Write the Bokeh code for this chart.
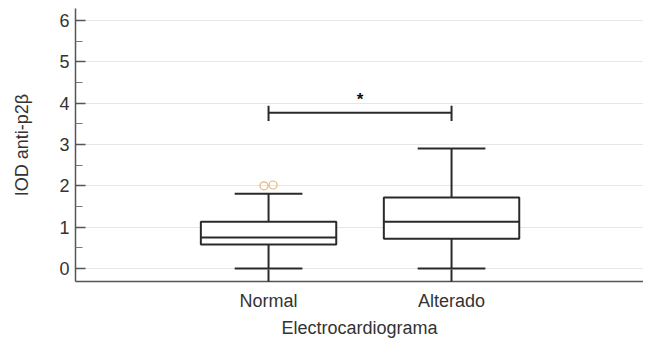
from bokeh.plotting import figure
from bokeh.models import FixedTicker, Range1d
from bokeh.embed import file_html
from bokeh.resources import INLINE
from bokeh.core.properties import value

# Data
categories = ["Normal", "Alterado"]
positions = [1, 2]
whisker_low = [0.0, 0.0]
q1 = [0.58, 0.72]
median = [0.75, 1.13]
q3 = [1.13, 1.72]
whisker_high = [1.81, 2.9]
outlier_x = [0.975, 1.025]
outlier_y = [2.0, 2.02]
sig_pair = [1, 2]
sig_y = 3.77
sig_label = "*"

p = figure(width=643, height=341, output_backend="svg", toolbar_location=None,
           x_range=Range1d(-0.055, 3.049), y_range=Range1d(-0.315, 6.29),
           min_border_left=75, min_border_right=0, min_border_top=8, min_border_bottom=60)
p.outline_line_color = None
p.background_fill_color = "white"
p.border_fill_color = "white"

box_w = 0.74
cap_w = 0.37
ink = "#2a2a2a"

# whiskers
p.segment(x0=positions, y0=whisker_low, x1=positions, y1=q1, line_color=ink, line_width=2)
p.segment(x0=positions, y0=q3, x1=positions, y1=whisker_high, line_color=ink, line_width=2)
p.segment(x0=[x - cap_w / 2 for x in positions], y0=whisker_low,
          x1=[x + cap_w / 2 for x in positions], y1=whisker_low, line_color=ink, line_width=2)
p.segment(x0=[x - cap_w / 2 for x in positions], y0=whisker_high,
          x1=[x + cap_w / 2 for x in positions], y1=whisker_high, line_color=ink, line_width=2)
# boxes
p.quad(left=[x - box_w / 2 for x in positions], right=[x + box_w / 2 for x in positions],
       bottom=q1, top=q3, fill_color="white", line_color=ink, line_width=2)
p.segment(x0=[x - box_w / 2 for x in positions], y0=median,
          x1=[x + box_w / 2 for x in positions], y1=median, line_color=ink, line_width=2)
# outliers
p.scatter(outlier_x, outlier_y, marker="circle", size=8, fill_color=None,
          line_color="#e6b57a", line_width=1.2)

# significance bracket
p.segment(x0=[sig_pair[0]], y0=[sig_y], x1=[sig_pair[1]], y1=[sig_y], line_color=ink, line_width=2)
p.segment(x0=sig_pair, y0=[sig_y - 0.2] * 2, x1=sig_pair, y1=[sig_y + 0.17] * 2,
          line_color=ink, line_width=2)
p.text(x=[sum(sig_pair) / 2], y=[sig_y + 0.1], text=[sig_label], text_align="center",
       text_baseline="bottom", text_font_size="17px", text_font=value("Liberation Sans"),
       text_color="#111111", text_font_style="bold")

# axes
p.xaxis.ticker = FixedTicker(ticks=positions)
p.xaxis.major_label_overrides = {pos: c for pos, c in zip(positions, categories)}
p.yaxis.ticker = FixedTicker(ticks=[0, 1, 2, 3, 4, 5, 6],
                             minor_ticks=[0.5, 1.5, 2.5, 3.5, 4.5, 5.5])
for ax in (p.xaxis[0], p.yaxis[0]):
    ax.axis_line_color = "#555555"
    ax.axis_line_width = 1.5
    ax.major_tick_line_color = "#555555"
    ax.major_tick_line_width = 1.5
    ax.major_label_text_font = "Liberation Sans"
    ax.major_label_text_font_size = "18px"
    ax.major_label_text_color = "#333333"
    ax.axis_label_text_font = "Liberation Sans"
    ax.axis_label_text_font_size = "18px"
    ax.axis_label_text_color = "#333333"
    ax.axis_label_text_font_style = "normal"

p.yaxis.major_tick_in = 10
p.yaxis.major_tick_out = 0
p.yaxis.minor_tick_in = 7
p.yaxis.minor_tick_out = 0
p.yaxis.minor_tick_line_color = "#777777"
p.yaxis.minor_tick_line_width = 1.2
p.yaxis.major_label_standoff = 6
p.yaxis.axis_label = "IOD anti-p2β"
p.yaxis.axis_label_standoff = 24

p.xaxis.major_tick_in = 12
p.xaxis.major_tick_out = 0
p.xaxis.major_tick_line_color = ink
p.xaxis.major_tick_line_width = 2
p.xaxis.minor_tick_line_color = None
p.xaxis.major_label_standoff = 9
p.xaxis.axis_label = "Electrocardiograma"
p.xaxis.axis_label_standoff = 4

p.xgrid.grid_line_color = None
p.ygrid.grid_line_color = "#e6e6e6"
p.ygrid.grid_line_width = 1

open("out.html", "w").write(file_html(p, INLINE))
